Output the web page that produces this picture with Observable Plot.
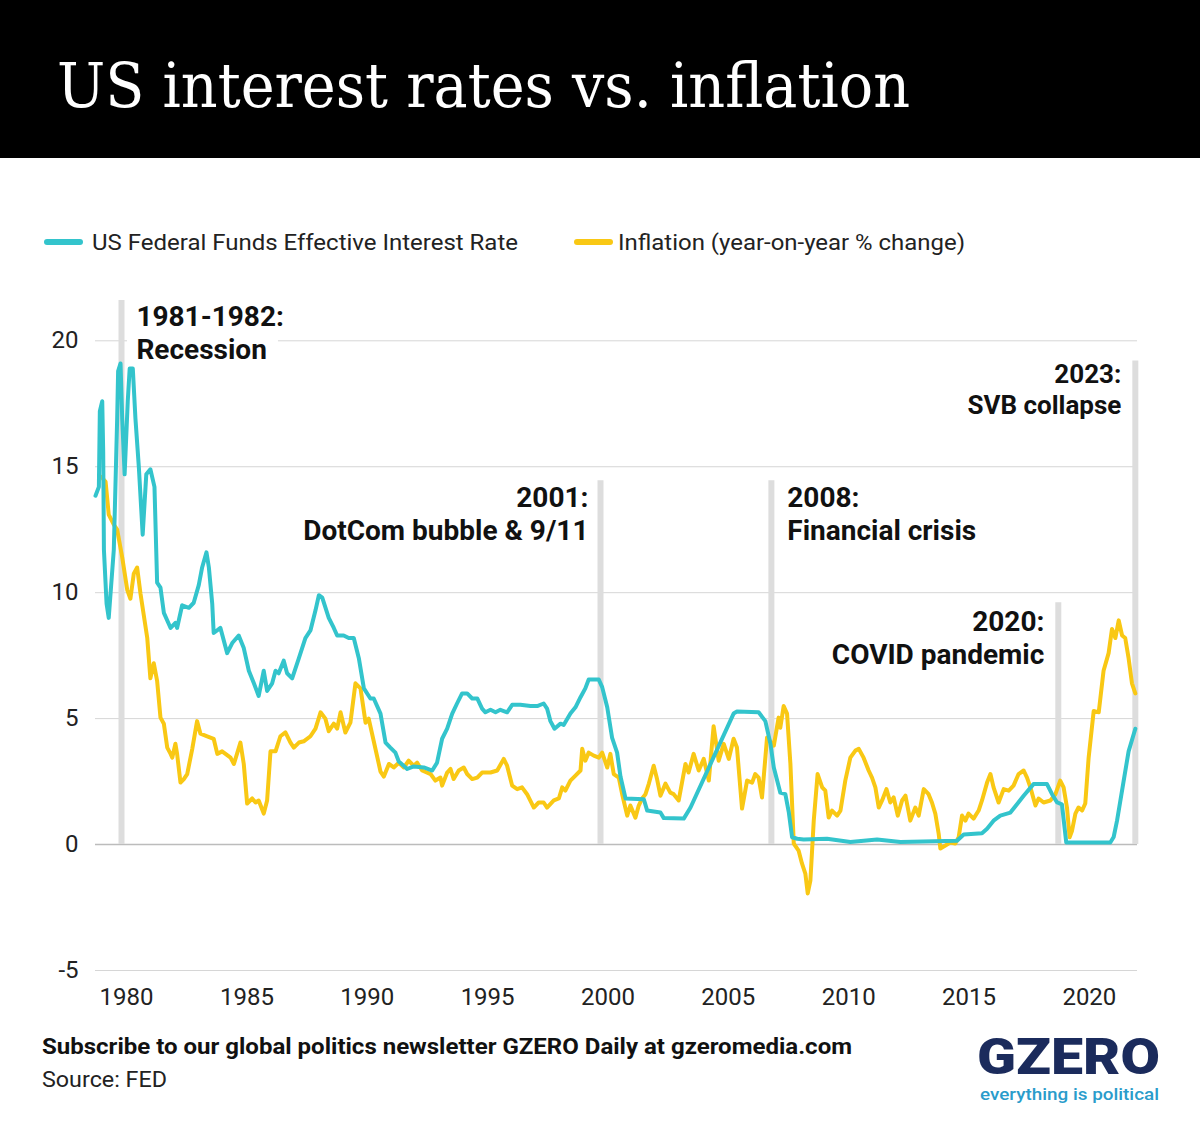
<!DOCTYPE html>
<html>
<head>
<meta charset="utf-8">
<script src="https://cdn.jsdelivr.net/npm/d3@7"></script>
<script src="https://cdn.jsdelivr.net/npm/@observablehq/plot@0.6"></script>
<style>
  html, body { margin: 0; padding: 0; background: #fff; }
  #root { position: relative; width: 1200px; height: 1132px; overflow: hidden; background: #fff; font-family: Roboto, "Noto Sans", sans-serif; }
  .abs { position: absolute; left: 0; }
</style>
</head>
<body>
<div id="root">
  <div class="abs" style="top:0;width:1200px;height:158px;background:#000;">
    <svg width="1200" height="158">
      <text x="57" y="107" fill="#fff" font-family="'DejaVu Serif', 'Liberation Serif', serif" font-size="62" textLength="853" lengthAdjust="spacingAndGlyphs">US interest rates vs. inflation</text>
    </svg>
  </div>
  <svg class="abs" style="top:220px" width="1200" height="44">
    <line x1="47" x2="80" y1="22" y2="22" stroke="#33c4cc" stroke-width="6" stroke-linecap="round"/>
    <text x="92" y="30" font-family="Roboto" font-size="22" fill="#222" textLength="426" lengthAdjust="spacingAndGlyphs">US Federal Funds Effective Interest Rate</text>
    <line x1="577" x2="610" y1="22" y2="22" stroke="#f9c814" stroke-width="6" stroke-linecap="round"/>
    <text x="618" y="30" font-family="Roboto" font-size="22" fill="#222" textLength="347" lengthAdjust="spacingAndGlyphs">Inflation (year-on-year % change)</text>
  </svg>
  <div id="chart" class="abs" style="top:280px"></div>
  <svg class="abs" style="top:1020px" width="1200" height="112">
    <text x="42" y="34" font-family="Roboto" font-weight="700" font-size="22" fill="#111" textLength="810" lengthAdjust="spacingAndGlyphs">Subscribe to our global politics newsletter GZERO Daily at gzeromedia.com</text>
    <text x="42" y="67" font-family="Roboto" font-size="22" fill="#222" textLength="125" lengthAdjust="spacingAndGlyphs">Source: FED</text>
    <text x="977" y="54" font-family="Roboto" font-weight="900" font-size="50" fill="#1b2b5c" textLength="183" lengthAdjust="spacingAndGlyphs">GZERO</text>
    <text x="980" y="80" font-family="Roboto" font-weight="500" font-size="16" fill="#2a9ccb" textLength="179" lengthAdjust="spacingAndGlyphs">everything is political</text>
  </svg>
</div>
<script>
// US Federal Funds Effective Interest Rate (decimal year positions as drawn, %)
const rateYears = [1978.71,1978.85,1978.89,1978.99,1979.03,1979.06,1979.17,1979.26,1979.47,1979.61,
1979.65,1979.75,1979.82,1979.92,1980.05,1980.13,1980.26,1980.37,1980.51,1980.67,
1980.82,1980.99,1981.16,1981.27,1981.41,1981.55,1981.83,1982.03,1982.10,1982.31,
1982.59,1982.79,1983.00,1983.14,1983.32,1983.42,1983.56,1983.62,1983.90,1984.18,
1984.39,1984.66,1984.87,1985.08,1985.29,1985.49,1985.70,1985.84,1986.05,1986.19,
1986.32,1986.53,1986.67,1986.88,1987.16,1987.43,1987.64,1987.85,1987.99,1988.13,
1988.40,1988.61,1988.75,1989.02,1989.23,1989.44,1989.65,1989.86,1990.13,1990.27,
1990.55,1990.76,1990.96,1991.17,1991.31,1991.66,1991.93,1992.35,1992.70,1992.90,
1993.11,1993.32,1993.53,1993.73,1993.94,1994.15,1994.36,1994.57,1994.77,1994.91,
1995.12,1995.33,1995.53,1995.81,1996.02,1996.36,1996.78,1997.06,1997.33,1997.47,
1997.61,1997.78,1998.03,1998.16,1998.44,1998.65,1998.86,1999.06,1999.20,1999.62,
1999.76,1999.97,2000.17,2000.38,2000.52,2000.73,2001.49,2001.63,2002.18,2002.32,
2003.15,2003.43,2005.22,2005.36,2006.26,2006.54,2006.75,2006.89,2007.16,2007.37,
2007.51,2007.65,2007.86,2008.13,2009.10,2010.07,2011.18,2012.15,2014.50,2014.78,
2015.54,2015.75,2016.02,2016.30,2016.72,2017.27,2017.68,2018.24,2018.45,2018.66,
2018.86,2019.04,2020.87,2021.01,2021.15,2021.42,2021.63,2021.91];
const rateValues = [13.85,14.2,17.2,17.6,15.6,11.7,9.56,9.0,11.7,16.9,
18.8,19.1,16.9,14.7,17.6,18.9,18.9,16.9,15.0,12.3,
14.7,14.9,14.2,10.4,10.2,9.2,8.6,8.8,8.6,9.5,
9.4,9.6,10.3,11.0,11.6,11.0,9.56,8.4,8.6,7.6,
8.0,8.3,7.8,6.9,6.4,5.9,6.9,6.1,6.4,6.9,
6.8,7.3,6.8,6.6,7.4,8.2,8.5,9.3,9.9,9.8,
9.0,8.6,8.3,8.3,8.2,8.2,7.4,6.2,5.8,5.8,
5.2,4.05,3.85,3.65,3.3,3.0,3.1,3.06,2.94,3.25,
4.2,4.6,5.2,5.6,6.0,6.0,5.8,5.8,5.4,5.25,
5.35,5.25,5.35,5.25,5.55,5.55,5.5,5.5,5.6,5.4,
4.9,4.6,4.8,4.75,5.2,5.45,5.85,6.2,6.55,6.55,
6.25,5.45,4.25,3.65,2.7,1.83,1.8,1.35,1.27,1.05,
1.03,1.47,5.2,5.28,5.25,4.9,4.0,3.06,2.06,2.0,
1.3,0.29,0.23,0.2,0.23,0.1,0.2,0.1,0.15,0.4,
0.45,0.63,0.95,1.15,1.27,1.94,2.4,2.4,2.0,1.67,
1.6,0.08,0.08,0.3,0.95,2.5,3.7,4.6];

// Inflation, year-on-year % change
const inflYears = [1978.95,1979.13,1979.26,1979.47,1979.61,1979.82,1980.03,1980.16,1980.30,1980.44,
1980.58,1980.86,1980.99,1981.13,1981.27,1981.41,1981.55,1981.69,1981.83,1981.90,
1982.03,1982.10,1982.24,1982.38,1982.52,1982.73,1982.93,1983.07,1983.35,1983.62,
1983.77,1983.97,1984.11,1984.32,1984.46,1984.73,1984.87,1985.01,1985.22,1985.36,
1985.49,1985.70,1985.84,1985.98,1986.19,1986.39,1986.60,1986.81,1986.95,1987.16,
1987.36,1987.64,1987.85,1988.06,1988.26,1988.40,1988.61,1988.75,1988.89,1989.09,
1989.30,1989.51,1989.72,1989.93,1990.06,1990.27,1990.55,1990.69,1990.90,1991.10,
1991.31,1991.52,1991.72,1991.93,1992.07,1992.28,1992.63,1992.83,1993.04,1993.11,
1993.32,1993.46,1993.59,1993.80,1994.01,1994.15,1994.36,1994.57,1994.77,1995.12,
1995.40,1995.67,1995.81,1996.02,1996.23,1996.43,1996.64,1996.92,1997.12,1997.33,
1997.47,1997.75,1997.96,1998.10,1998.23,1998.44,1998.65,1998.86,1998.93,1999.06,
1999.20,1999.41,1999.62,1999.76,1999.97,2000.10,2000.24,2000.45,2000.59,2000.80,
2000.93,2001.14,2001.28,2001.42,2001.56,2001.70,2001.90,2002.04,2002.18,2002.39,
2002.59,2002.73,2002.94,2003.22,2003.35,2003.56,2003.77,2003.98,2004.19,2004.39,
2004.60,2004.81,2005.02,2005.22,2005.36,2005.57,2005.78,2005.99,2006.12,2006.26,
2006.40,2006.61,2006.89,2007.09,2007.16,2007.30,2007.44,2007.58,2007.72,2007.92,
2008.06,2008.20,2008.30,2008.41,2008.55,2008.71,2008.90,2009.03,2009.17,2009.31,
2009.52,2009.66,2009.86,2010.07,2010.28,2010.42,2010.62,2010.83,2010.97,2011.11,
2011.25,2011.39,2011.57,2011.73,2011.87,2012.04,2012.22,2012.36,2012.56,2012.77,
2012.91,2013.12,2013.32,2013.46,2013.60,2013.74,2013.81,2014.02,2014.22,2014.43,
2014.57,2014.71,2014.85,2014.98,2015.19,2015.40,2015.54,2015.75,2015.89,2016.02,
2016.23,2016.44,2016.65,2016.85,2017.06,2017.27,2017.41,2017.55,2017.76,2017.89,
2018.10,2018.38,2018.59,2018.79,2018.93,2019.07,2019.18,2019.28,2019.42,2019.55,
2019.70,2019.83,2019.97,2020.18,2020.39,2020.59,2020.80,2020.94,2021.08,2021.22,
2021.36,2021.49,2021.63,2021.77,2021.91];
const inflValues = [14.6,14.4,13.1,12.7,12.5,11.4,10.1,9.76,10.75,11.0,
9.96,8.2,6.6,7.2,6.5,5.04,4.8,3.85,3.6,3.45,
4.0,3.6,2.46,2.6,2.8,3.8,4.9,4.4,4.3,4.2,
3.6,3.7,3.6,3.45,3.2,4.05,3.2,1.63,1.83,1.67,
1.75,1.23,1.75,3.7,3.7,4.3,4.45,4.05,3.85,4.05,
4.1,4.3,4.6,5.25,5.0,4.5,4.8,4.6,5.25,4.45,
4.84,6.4,6.2,4.84,5.0,4.1,2.9,2.7,3.2,3.06,
3.25,3.06,3.33,3.13,3.25,2.94,2.8,2.54,2.66,2.34,
2.86,3.0,2.6,2.94,3.06,2.8,2.6,2.66,2.86,2.86,
2.94,3.4,3.13,2.34,2.2,2.27,2.0,1.47,1.67,1.67,
1.47,1.75,1.83,2.27,2.14,2.54,2.74,2.94,3.8,3.33,
3.65,3.53,3.45,3.65,3.06,3.6,2.8,2.66,2.0,1.15,
1.55,1.07,1.55,1.83,2.0,2.42,3.13,2.6,1.94,2.42,
2.06,2.0,1.75,3.2,2.86,3.6,2.94,3.4,2.54,4.7,
3.33,4.0,3.4,4.2,3.85,1.43,2.54,2.46,2.8,2.66,
1.87,4.25,3.93,5.04,4.64,5.5,5.2,3.2,0.04,-0.24,
-0.75,-1.15,-1.94,-1.43,0.95,2.8,2.27,2.14,1.07,1.35,
1.15,1.35,2.54,3.45,3.73,3.8,3.45,2.94,2.66,2.27,
1.47,1.75,2.2,1.67,1.87,1.15,1.75,1.94,0.95,1.47,
1.15,2.2,2.0,1.67,1.23,0.43,-0.16,-0.04,0.08,0.04,
0.29,1.15,0.95,1.23,1.03,1.35,1.75,2.46,2.8,2.27,
1.67,2.2,2.14,2.34,2.8,2.94,2.66,2.27,1.55,1.83,
1.67,1.75,2.0,2.54,2.27,1.47,0.29,0.55,1.23,1.47,
1.35,1.63,3.45,5.3,5.25,6.9,7.6,8.56,8.2,8.9,
8.3,8.2,7.4,6.4,6.0];

// Event markers (vertical bars)
const eventYears = [1979.79, 1999.69, 2006.79, 2018.71, 2021.91];
const eventTops  = [21.6, 14.44, 14.44, 9.6, 19.2];

// Event labels
const labelTexts   = ["1981-1982:\nRecession", "2001:\nDotCom bubble & 9/11", "2008:\nFinancial crisis", "2020:\nCOVID pandemic", "2023:\nSVB collapse"];
const labelYears   = [1980.41, 1999.19, 2007.45, 2018.13, 2021.33];
const labelValues  = [19.29, 12.10, 12.10, 7.18, 17.10];
const labelAnchors = ["start", "end", "start", "end", "end"];
const labelSizes   = [28, 28, 28, 28, 26];

// Axis ticks
const xTicks = [1980, 1985, 1990, 1995, 2000, 2005, 2010, 2015, 2020];
const yTicks = [-5, 0, 5, 10, 15, 20];

const TEAL = "#33c4cc";
const YELLOW = "#f9c814";

const rate = rateYears.map((x, i) => ({x, y: rateValues[i]}));
const infl = inflYears.map((x, i) => ({x, y: inflValues[i]}));
const events = eventYears.map((x, i) => ({x, top: eventTops[i]}));
const labels = labelTexts.map((t, i) => ({t, x: labelYears[i], y: labelValues[i], a: labelAnchors[i], s: labelSizes[i]}));
const labelBox = [{x1: 1980.04, x2: 1986.31, y1: 19.3, y2: 20.7}];

const chart = Plot.plot({
  width: 1200,
  height: 740,
  marginLeft: 95,
  marginRight: 63,
  marginTop: 20,
  marginBottom: 50,
  style: {fontFamily: "Roboto", fontSize: "24px", color: "#222", background: "transparent"},
  x: {domain: [1978.71, 2022], ticks: xTicks, tickFormat: d => String(d), tickSize: 0, tickPadding: 17, label: null},
  y: {domain: [-5, 21.6], ticks: yTicks, tickFormat: d => String(d), tickSize: 0, tickPadding: 17, label: null},
  marks: [
    Plot.ruleY(yTicks.filter(d => d !== 0), {stroke: "#d6d6d6", strokeWidth: 1}),
    Plot.ruleY([0], {stroke: "#bcbcbc", strokeWidth: 1.6}),
    Plot.ruleX(events, {x: "x", y1: 0, y2: "top", stroke: "#dddddd", strokeWidth: 6}),
    Plot.rect(labelBox, {x1: "x1", x2: "x2", y1: "y1", y2: "y2", fill: "#fff"}),
    Plot.line(infl, {x: "x", y: "y", stroke: YELLOW, strokeWidth: 4, strokeLinejoin: "round", strokeLinecap: "round"}),
    Plot.line(rate, {x: "x", y: "y", stroke: TEAL, strokeWidth: 4, strokeLinejoin: "round", strokeLinecap: "round"}),
    Plot.text(labels.filter(d => d.a === "start"), {x: "x", y: "y", text: "t", fontSize: d => d.s, textAnchor: "start", lineAnchor: "bottom", lineHeight: 1.18, fontWeight: 700, fill: "#111"}),
    Plot.text(labels.filter(d => d.a === "end"), {x: "x", y: "y", text: "t", fontSize: d => d.s, textAnchor: "end", lineAnchor: "bottom", lineHeight: 1.18, fontWeight: 700, fill: "#111"})
  ]
});
document.getElementById("chart").appendChild(chart);
</script>
</body>
</html>
